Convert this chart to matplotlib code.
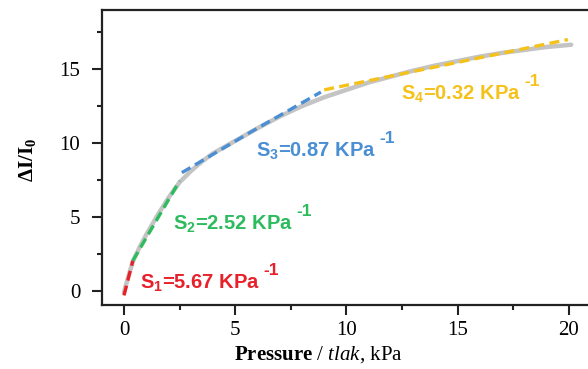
import numpy as np
import matplotlib
matplotlib.use("Agg")
import matplotlib.pyplot as plt

plt.rcParams['mathtext.default'] = 'regular'
plt.rcParams['mathtext.fontset'] = 'custom'
plt.rcParams['mathtext.bf'] = 'Liberation Serif:bold'
plt.rcParams['mathtext.it'] = 'Liberation Serif:italic'
plt.rcParams['mathtext.rm'] = 'Liberation Serif'

# measured response curve (grey)
pressure = [0, 0.2, 0.4, 0.7, 1.0, 1.5, 2.0, 2.5, 3.0, 3.5, 4.0, 5.0, 6.0, 7.0, 8.0,
            9.0, 10.0, 11.0, 12.0, 13.0, 14.0, 15.0, 16.0, 17.0, 18.0, 19.0, 20.1]
response = [-0.1, 1.0, 2.0, 2.95, 3.8, 5.1, 6.3, 7.35, 8.1, 8.75, 9.3, 10.15, 11.0, 11.8,
            12.5, 13.1, 13.6, 14.1, 14.5, 14.9, 15.25, 15.55, 15.85, 16.1, 16.3, 16.5, 16.65]

# linear fit segments
fit_x = [[0.0, 0.4], [0.4, 2.5], [2.6, 5.7, 8.85], [9.0, 19.95]]
fit_y = [[-0.3, 2.05], [2.05, 7.45], [8.0, 10.75, 13.45], [13.6, 17.0]]
fit_colors = ['#e8202a', '#2dbb5e', '#4a8fd4', '#f5c21b']
fit_labels = ['S$_1$=5.67 KPa', 'S$_2$=2.52 KPa', 'S$_3$=0.87 KPa', 'S$_4$=0.32 KPa']
label_x = [0.72, 2.21, 5.95, 12.47]
label_y = [0.15, 4.15, 9.1, 12.95]

fig = plt.figure(figsize=(5.88, 3.69), dpi=100)
ax = fig.add_axes([0.173, 0.1734, 0.8325, 0.7995])

ax.plot(pressure, response, color='#c4c4c4', lw=3.2, solid_capstyle='round', zorder=2)
for xs, ys, c in zip(fit_x, fit_y, fit_colors):
    ax.plot(xs, ys, color=c, lw=2.4, ls=(0, (3, 1.6)), zorder=3)
for tx, ty, s, c in zip(label_x, label_y, fit_labels, fit_colors):
    t = ax.text(tx, ty, s, color=c, fontsize=14.5, fontweight='bold',
                family='Liberation Sans', ha='left', va='baseline')
    # superscript unit exponent, drawn a bit larger/higher than mathtext would
    ax.annotate('-1', xy=(1, 1), xycoords=t, xytext=(2.5, 1.5), textcoords='offset points',
                color=c, fontsize=12.5, fontweight='bold', family='Liberation Sans',
                ha='left', va='center')

ax.set_xlim(-1, 21)
ax.set_ylim(-0.95, 19.0)
ax.set_xticks([0, 5, 10, 15, 20])
ax.set_xticks([2.5, 7.5, 12.5, 17.5], minor=True)
ax.set_yticks([0, 5, 10, 15])
ax.set_yticks([2.5, 7.5, 12.5, 17.5], minor=True)
for lab in ax.get_xticklabels() + ax.get_yticklabels():
    lab.set_family('Liberation Serif')
    lab.set_fontsize(15)
ax.tick_params(which='major', length=7.5, width=1.5, color='#222222')
ax.tick_params(which='minor', length=3.8, width=1.5, color='#222222')
ax.tick_params(axis='x', pad=4)
ax.tick_params(axis='y', pad=8)
for sp in ax.spines.values():
    sp.set_linewidth(1.6)
    sp.set_color('#222222')

fig.text(28 / 588, 0.566, r'$\bf{\Delta I/I_0}$', rotation=90, ha='center', va='center',
         fontsize=15, family='Liberation Serif')
fig.text(318 / 588, 0.04, r'$\bf{Pressure}$ / $\it{tlak}$, kPa', ha='center',
         va='center', fontsize=15, family='Liberation Serif')

fig.savefig('out.png', dpi=100)
